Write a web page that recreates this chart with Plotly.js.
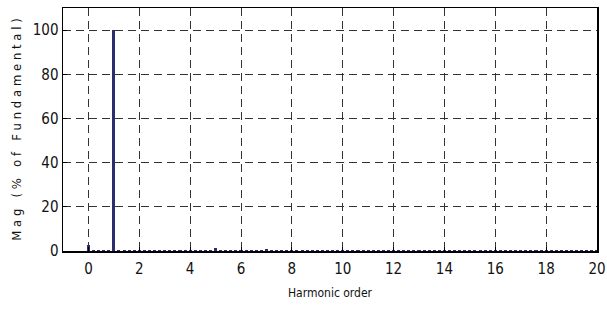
<!DOCTYPE html>
<html>
<head>
<script src="https://cdn.plot.ly/plotly-3.0.1.min.js"></script>
<style>body{margin:0;padding:0;background:#fff;}#chart{width:607px;height:311px;}</style>
</head>
<body>
<div id="chart"></div>
<script>
// Harmonic order (step 0.2)
const harmonicOrder = [
 0,0.2,0.4,0.6,0.8,1,1.2,1.4,1.6,1.8,2,2.2,2.4,2.6,2.8,3,3.2,3.4,3.6,3.8,
 4,4.2,4.4,4.6,4.8,5,5.2,5.4,5.6,5.8,6,6.2,6.4,6.6,6.8,7,7.2,7.4,7.6,7.8,
 8,8.2,8.4,8.6,8.8,9,9.2,9.4,9.6,9.8,10,10.2,10.4,10.6,10.8,11,11.2,11.4,11.6,11.8,
 12,12.2,12.4,12.6,12.8,13,13.2,13.4,13.6,13.8,14,14.2,14.4,14.6,14.8,15,15.2,15.4,15.6,15.8,
 16,16.2,16.4,16.6,16.8,17,17.2,17.4,17.6,17.8,18,18.2,18.4,18.6,18.8,19,19.2,19.4,19.6,19.8,20
];
// Magnitude (% of fundamental)
const magnitude = [
 2.5,0.5,0.5,0.5,0.5,100,0.5,0.5,0.5,0.5,0.5,0.5,0.5,0.5,0.5,0.5,0.5,0.5,0.5,0.5,
 0.5,0.5,0.5,0.5,0.5,1.5,0.5,0.5,0.5,0.5,0.5,0.5,0.5,0.5,0.5,1.0,0.5,0.5,0.5,0.5,
 0.5,0.5,0.5,0.5,0.5,0.5,0.5,0.5,0.5,0.5,0.5,0.5,0.5,0.5,0.5,0.5,0.5,0.5,0.5,0.5,
 0.5,0.5,0.5,0.5,0.5,0.5,0.5,0.5,0.5,0.5,0.5,0.5,0.5,0.5,0.5,0.5,0.5,0.5,0.5,0.5,
 0.5,0.5,0.5,0.5,0.5,0.5,0.5,0.5,0.5,0.5,0.5,0.5,0.5,0.5,0.5,0.5,0.5,0.5,0.5,0.5,0.5
];
const xTicks = [0,2,4,6,8,10,12,14,16,18,20];
const yTicks = [0,20,40,60,80,100];

const trace = {
  type: 'bar',
  x: harmonicOrder,
  y: magnitude,
  width: 0.12,
  marker: {color: '#2b2d6e', line: {width: 0}},
  hoverinfo: 'x+y'
};

const fontFam = 'DejaVu Sans Condensed, Liberation Sans Narrow, Liberation Sans, Arial, sans-serif';

const axisCommon = {
  showline: true, mirror: true, linecolor: '#000', linewidth: 1.5,
  ticks: 'inside', ticklen: 4, tickcolor: '#000',
  showgrid: true, gridcolor: '#333', griddash: '8px,5px', gridwidth: 1,
  zeroline: false,
  tickfont: {family: fontFam, size: 15, color: '#111'}
};

const layout = {
  width: 607, height: 311,
  margin: {l: 63, r: 10, t: 8, b: 60},
  paper_bgcolor: '#fff', plot_bgcolor: '#fff',
  showlegend: false,
  bargap: 0,
  xaxis: Object.assign({}, axisCommon, {
    range: [-1, 20], tickvals: xTicks, ticktext: xTicks.map(String),
    ticklabelstandoff: 3,
    title: {text: 'Harmonic order', standoff: 12, font: {family: fontFam, size: 12, color: '#111'}}
  }),
  yaxis: Object.assign({}, axisCommon, {
    range: [0, 110], tickvals: yTicks, ticktext: yTicks.map(String),
    title: {text: 'M a g   ( %   o f   F u n d a m e n t a l )', standoff: 8, font: {family: fontFam, size: 13, color: '#111'}}
  })
};

Plotly.newPlot('chart', [trace], layout, {displayModeBar: false, staticPlot: true});
</script>
</body>
</html>
